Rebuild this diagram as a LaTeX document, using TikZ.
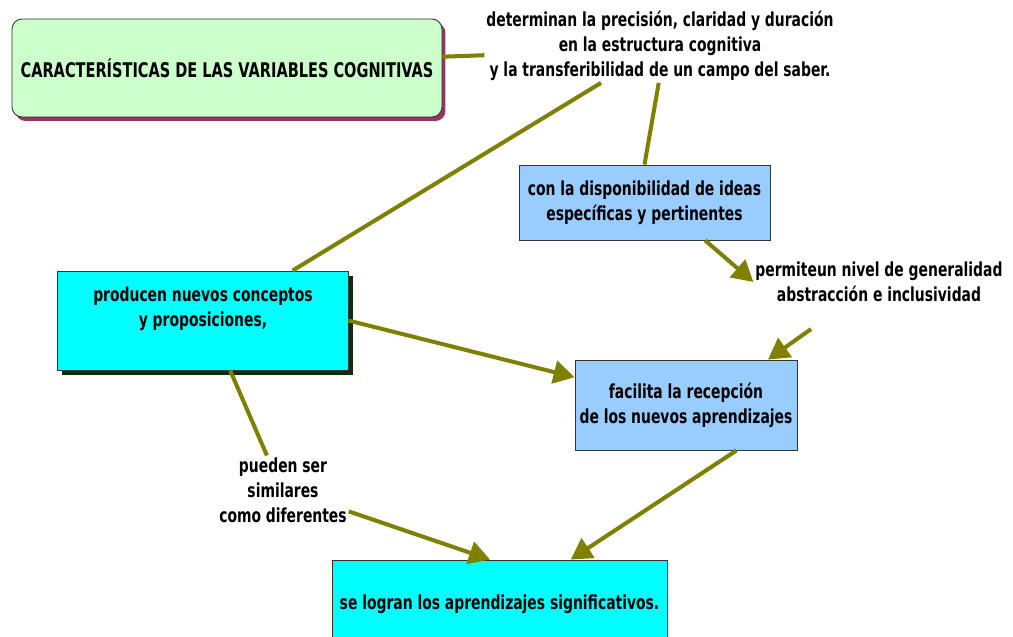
\documentclass[tikz,border=0pt]{standalone}
\usepackage{fontspec}
\usepackage{tikz}
\usetikzlibrary{arrows.meta,shadows}
\newfontfamily\mapfont[FakeStretch=0.8]{DejaVu Sans Condensed}
\definecolor{olive_line}{HTML}{808000}
\definecolor{title_green}{HTML}{CCFFCC}
\definecolor{title_shadow}{HTML}{993366}
\definecolor{box_blue}{HTML}{99CCFF}
\definecolor{box_cyan}{HTML}{00FFFF}
\definecolor{dark_shadow}{HTML}{0A300A}

\begin{document}
\begin{tikzpicture}[x=0.02cm, y=-0.02cm,
    every node/.style={font=\mapfont\bfseries\fontsize{11}{14.2}\selectfont, align=center, inner sep=1pt},
    conceptbox/.style={draw=black!80, line width=0.5pt, inner sep=2pt},
    link/.style={olive_line, line width=2.3pt},
    arrowlink/.style={link, -{Triangle[length=0.42cm, width=0.46cm]}}]

      \useasboundingbox (0, 0) rectangle (1013, 636);

      % Draw the concept boxes
      \node[conceptbox, rounded corners=0.2cm, fill=title_green, minimum width=8.6cm, minimum height=1.96cm,
            font=\mapfont\bfseries\fontsize{11.5}{14.2}\selectfont,
            drop shadow={shadow xshift=0.07cm, shadow yshift=-0.08cm, fill=title_shadow, opacity=1}]
            (title) at (227, 68) {CARACTERÍSTICAS DE LAS VARIABLES COGNITIVAS};
      \node[conceptbox, fill=box_blue, minimum width=5.02cm, minimum height=1.5cm]
            (disp) at (644.5, 202.5) {con la disponibilidad de ideas\\ específicas y pertinentes};
      \node[conceptbox, fill=box_cyan, minimum width=5.82cm, minimum height=1.98cm,
            drop shadow={shadow xshift=0.1cm, shadow yshift=-0.1cm, fill=dark_shadow, opacity=1}]
            (producen) at (202.5, 320.5) {};
      \node (producentext) at (203, 309) {producen nuevos conceptos\\ y proposiciones,};
      \node[conceptbox, fill=box_blue, minimum width=4.44cm, minimum height=1.8cm]
            (facilita) at (686, 405) {facilita la recepción\\ de los nuevos aprendizajes};
      \node[conceptbox, fill=box_cyan, minimum width=6.7cm, minimum height=1.76cm]
            (logran) at (499.5, 604) {se logran los aprendizajes significativos.};

      % Draw the linking phrases
      \node (det) at (660, 46) {determinan la precisión, claridad y duración\\ en la estructura cognitiva\\ y la transferibilidad de un campo del saber.};
      \node (perm) at (879, 282) {permiteun nivel de generalidad\\ abstracción e inclusividad};
      \node (pueden) at (283, 490) {pueden ser\\ similares\\ como diferentes};

      % Draw the connectors
      \draw[link] (title.3) -- (det.183);
      \draw[link] (det.212) -- (producen.29);
      \draw[link] (det.-92) -- (disp.north);
      \draw[arrowlink] (disp.-32.5) -- (perm.west);
      \draw[arrowlink] ([xshift=-1.36cm, yshift=-0.5cm]perm.south) -- (facilita.29);
      \draw[arrowlink] (producen.east) -- (facilita.166);
      \draw[link] (producen.-61) -- (pueden.115);
      \draw[arrowlink] (pueden.-18) -- (logran.102);
      \draw[arrowlink] (facilita.-42.6) -- (logran.32);

  \end{tikzpicture}
\end{document}
